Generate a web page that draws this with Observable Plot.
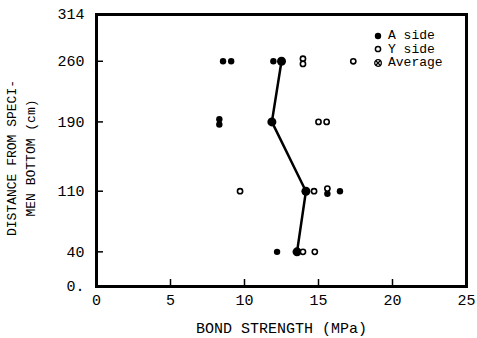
<!DOCTYPE html>
<html>
<head>
<meta charset="utf-8">
<script src="https://cdn.jsdelivr.net/npm/d3@7"></script>
<script src="https://cdn.jsdelivr.net/npm/@observablehq/plot@0.6"></script>
<style>
  body { margin: 0; background: #fff; }
  #wrap { position: relative; width: 477px; height: 338px; font-family: "Liberation Mono", monospace; }
  #legend { position: absolute; left: 374px; top: 29px; font-size: 13px; color: #000; }
  #legend div { display: flex; align-items: center; height: 13.5px; line-height: 13.5px; }
  #legend svg { margin-right: 6px; }
  #ylabel { position: absolute; left: 22px; top: 158px; width: 0; height: 0; }
  #ylabel div { position: absolute; left: 0; top: 0; transform: translate(-50%, -50%) rotate(-90deg);
    white-space: pre; text-align: center; font-size: 13px; line-height: 19px; color: #000; }
</style>
</head>
<body>
<div id="wrap"></div>
<script>
// Data
const ySideX = [13.95, 13.95, 17.35, 15.0, 15.55, 9.7, 14.7, 15.6, 13.95, 14.75];
const ySideY = [263, 257, 260, 190, 190, 110, 110, 113, 40, 40];
const aSideX = [8.55, 9.1, 11.95, 8.3, 8.3, 15.6, 16.45, 12.2];
const aSideY = [260, 260, 260, 193, 187, 107, 110, 40];
const avgX = [12.5, 11.85, 14.15, 13.55];
const avgY = [260, 190, 110, 40];
const xTicks = [0, 5, 10, 15, 20, 25];
const yTicks = [0, 40, 110, 190, 260, 314];
const legendLabels = ["A side", "Y side", "Average"];
const xLabel = "BOND STRENGTH (MPa)";
const yLabel = "DISTANCE FROM SPECI-\nMEN BOTTOM (cm)";

const ySide = ySideX.map((x, i) => ({x, y: ySideY[i]}));
const aSide = aSideX.map((x, i) => ({x, y: aSideY[i]}));
const avg = avgX.map((x, i) => ({x, y: avgY[i]}));

const W = 477, H = 338, mL = 96, mR = 11, mT = 14, mB = 52;
const pw = W - mL - mR, ph = H - mT - mB;
const font = "Liberation Mono, monospace";

const chart = Plot.plot({
  width: W, height: H,
  marginLeft: mL, marginRight: mR, marginTop: mT, marginBottom: mB,
  style: {fontFamily: font, fontSize: "15px", color: "#000", background: "#fff"},
  x: {domain: [0, 25]},
  y: {domain: [0, 314]},
  marks: [
    Plot.axisX(xTicks, {tickSize: 0, tickPadding: 8, fontSize: 15, label: null}),
    Plot.axisY(yTicks, {tickSize: 0, tickPadding: 12, fontSize: 15, label: null,
      tickFormat: d => d === 0 ? "0." : String(d)}),
    Plot.tickX(xTicks.slice(1, -1), {x: d => d, insetTop: ph - 7, stroke: "#000", strokeWidth: 1.5}),
    Plot.tickY(yTicks.slice(1, -1), {y: d => d, insetRight: pw - 7, stroke: "#000", strokeWidth: 1.5}),
    Plot.line(avg, {x: "x", y: "y", stroke: "#000", strokeWidth: 2.5}),
    Plot.dot(avg, {x: "x", y: "y", r: 4.5, fill: "#000"}),
    Plot.dot(aSide, {x: "x", y: "y", r: 3.2, fill: "#000"}),
    Plot.dot(ySide, {x: "x", y: "y", r: 2.6, fill: "#fff", stroke: "#000", strokeWidth: 1.6}),
    Plot.frame({stroke: "#000", strokeWidth: 3}),
    Plot.text([xLabel], {frameAnchor: "bottom", dy: 46, fontSize: 15})
  ]
});
const wrap = document.getElementById("wrap");
wrap.appendChild(chart);

const yl = document.createElement("div");
yl.id = "ylabel";
const yli = document.createElement("div");
yli.textContent = yLabel;
yl.appendChild(yli);
wrap.appendChild(yl);

const legend = document.createElement("div");
legend.id = "legend";
const icons = [
  '<svg width="8" height="8"><circle cx="4" cy="4" r="3.2" fill="#000"/></svg>',
  '<svg width="8" height="8"><circle cx="4" cy="4" r="2.6" fill="#fff" stroke="#000" stroke-width="1.5"/></svg>',
  '<svg width="8" height="8"><circle cx="4" cy="4" r="3.3" fill="#fff" stroke="#000" stroke-width="1.3"/><path d="M1.8,1.8L6.2,6.2M6.2,1.8L1.8,6.2" stroke="#000" stroke-width="1.3"/></svg>'
];
legendLabels.forEach((t, i) => {
  const row = document.createElement("div");
  row.innerHTML = icons[i] + "<span>" + t + "</span>";
  legend.appendChild(row);
});
wrap.appendChild(legend);
</script>
</body>
</html>
